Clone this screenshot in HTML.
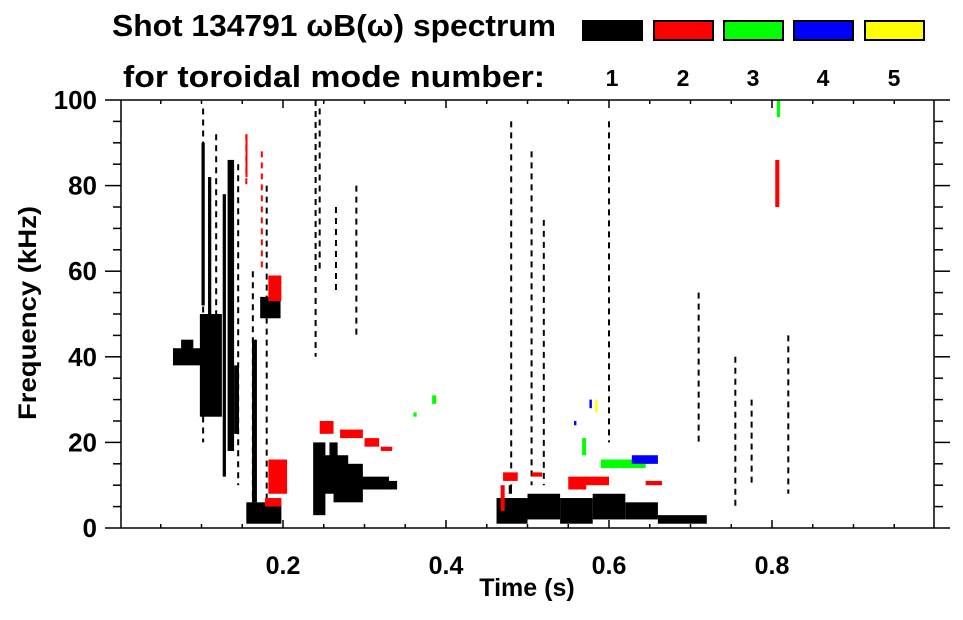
<!DOCTYPE html>
<html><head><meta charset="utf-8"><style>
body{margin:0;background:#fff;}
svg text{font-family:"Liberation Sans",sans-serif;font-weight:bold;fill:#000;}
</style></head><body>
<svg id="chart" width="963" height="615" viewBox="0 0 963 615" xmlns="http://www.w3.org/2000/svg">
<text x="112" y="36" font-size="31" textLength="444" lengthAdjust="spacingAndGlyphs">Shot 134791 ωB(ω) spectrum</text>
<text x="123" y="87" font-size="31" textLength="422" lengthAdjust="spacingAndGlyphs">for toroidal mode number:</text>
<g id="legend"></g>
<g id="marks"></g>
<g id="axes"></g>
<text x="527" y="596" font-size="25" text-anchor="middle">Time (s)</text>
<text x="36" y="313" font-size="25" text-anchor="middle" transform="rotate(-90 36 313)" textLength="214" lengthAdjust="spacingAndGlyphs">Frequency (kHz)</text>
</svg>
<script>
const modeNumbers=[1,2,3,4,5];
const modeColors=['#000000','#ff0000','#00ff00','#0000ff','#ffff00'];
const xTickLabels=[0.2,0.4,0.6,0.8];
const yTickLabels=[0,20,40,60,80,100];
// patches: mode, t0, t1, f0, f1
const patchMode=[1,1,1,1,1,1,1,1,1,1,1,1,1,1,1,1,1,1,1,1,1,1,1,1,1, 2,2,2,2,2,2,2,2,2,2,2,2,2,2,2, 3,3,3,3,3,3, 4,4,4, 5];
const patchT0=[0.065,0.098,0.1,0.108,0.126,0.132,0.172,0.155,0.162,0.237,0.24,0.262,0.28,0.3,0.462,0.50,0.54,0.58,0.62,0.66,0.477,0.075,0.112,0.14,0.257,
 0.182,0.182,0.245,0.27,0.3,0.32,0.467,0.47,0.55,0.57,0.505,0.645,0.178,0.154,0.804,
 0.567,0.59,0.62,0.383,0.36,0.806,
 0.628,0.557,0.576, 0.583];
const patchT1=[0.1,0.125,0.104,0.112,0.13,0.14,0.197,0.198,0.168,0.252,0.28,0.298,0.33,0.34,0.50,0.54,0.58,0.62,0.66,0.72,0.481,0.09,0.118,0.146,0.267,
 0.205,0.198,0.262,0.298,0.318,0.334,0.472,0.488,0.572,0.6,0.518,0.665,0.198,0.156,0.809,
 0.572,0.645,0.66,0.388,0.364,0.81,
 0.66,0.56,0.579, 0.586];
const patchF0=[38,26,52,32,12,18,49,1,6,3,8,6,9,9,1,2,1,2,2,1,8,40,30,22,14,
 8,53,22,21,19,18,4,11,9,10,12,10,5,82,75,
 17,14,15,29,26,96,
 15,24,28, 27];
const patchF1=[42,50,90,82,78,86,54,6,44,20,17,15,12,11,7,8,7,8,6,3,10,44,46,38,20,
 16,59,25,23,21,19,10,13,12,12,13,11,7,92,86,
 21,16,16,31,27,100,
 17,25,30, 30];
// thin streaks: mode, t, f0, f1
const streakMode=[1,1,1,1,1,1,1,1,1,1,1,1,1,1,1,2,2,1,1];
const streakT=[0.102,0.118,0.145,0.163,0.18,0.24,0.245,0.265,0.29,0.48,0.505,0.52,0.6,0.755,0.775,0.155,0.174,0.71,0.82];
const streakF0=[20,50,10,5,5,40,60,55,45,10,10,10,20,5,10,80,60,20,8];
const streakF1=[98,92,85,60,80,100,98,75,80,95,88,72,95,40,30,92,88,55,45];
const ns='http://www.w3.org/2000/svg';
const X0=120,X1=935,Y0=528,Y1=100;
function xs(t){return X0+t*(X1-X0);}
function ys(f){return Y0-f/100*(Y0-Y1);}
function mk(tag,attrs,parent){const e=document.createElementNS(ns,tag);for(const k in attrs)e.setAttribute(k,attrs[k]);parent.appendChild(e);return e;}
const marks=document.getElementById('marks');
for(let i=0;i<streakT.length;i++){
  const l=mk('line',{x1:xs(streakT[i]),x2:xs(streakT[i]),y1:ys(streakF1[i]),y2:ys(streakF0[i]),stroke:modeColors[streakMode[i]-1],'stroke-width':2,'stroke-dasharray':'6 5'},marks);
  
  
}
for(let i=0;i<patchT0.length;i++){
  const r=mk('rect',{x:xs(patchT0[i]),y:ys(patchF1[i]),width:Math.max(2,xs(patchT1[i])-xs(patchT0[i])),height:Math.max(2,ys(patchF0[i])-ys(patchF1[i])),fill:modeColors[patchMode[i]-1]},marks);
  
  
}
// legend
const lg=document.getElementById('legend');
const lx=[582,653,723,793,864];
for(let i=0;i<modeNumbers.length;i++){
  const r=mk('rect',{x:lx[i]+1,y:21,width:59,height:19,fill:modeColors[i],stroke:'#000','stroke-width':2},lg);
  
  
  const t=mk('text',{x:lx[i]+30,y:86,'font-size':23,'text-anchor':'middle'},lg);
  t.textContent=modeNumbers[i];
  
  
}
// axes
const ax=document.getElementById('axes');
const L={stroke:'#000','stroke-width':1.5,fill:'none'};
mk('line',Object.assign({x1:105,y1:Y1,x2:950,y2:Y1},L),ax);
mk('line',Object.assign({x1:105,y1:Y0,x2:950,y2:Y0},L),ax);
mk('line',Object.assign({x1:X0+1,y1:Y1,x2:X0+1,y2:Y0},L),ax);
mk('line',Object.assign({x1:X1-1,y1:Y1,x2:X1-1,y2:Y0},L),ax);
for(let k=1;k<20;k++){
  const t=k*0.05,x=xs(t),maj=(k%4===0);
  const len=maj?8:4;
  mk('line',Object.assign({x1:x,y1:Y0,x2:x,y2:Y0-len},L),ax);
  mk('line',Object.assign({x1:x,y1:Y1,x2:x,y2:Y1+len},L),ax);
}
for(let k=1;k<20;k++){
  const f=k*5,y=ys(f),maj=(k%4===0);
  mk('line',Object.assign({x1:maj?105:113,y1:y,x2:X0+1,y2:y},L),ax);
  mk('line',Object.assign({x1:X1-1,y1:y,x2:maj?950:943,y2:y},L),ax);
}
xTickLabels.forEach(v=>{
  const t=mk('text',{x:xs(v),y:574,'font-size':25,'text-anchor':'middle'},ax);
  t.textContent=v.toFixed(1);
  
  
});
yTickLabels.forEach(v=>{
  const t=mk('text',{x:97,y:ys(v)+9,'font-size':26,'text-anchor':'end'},ax);
  t.textContent=v;
  
  
});
</script>
</body></html>
